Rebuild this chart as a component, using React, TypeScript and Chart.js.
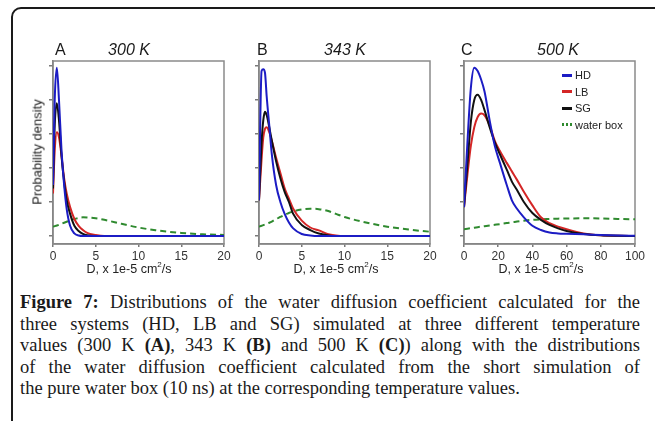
import React, { useEffect, useRef } from 'react';
import { Chart, registerables } from 'chart.js';
Chart.register(...registerables);

// ---------- data ----------
const D_A = [0, 0.2, 0.45, 0.7, 1.0, 1.3, 1.6, 2.0, 2.5, 3.0, 3.5, 4, 5, 6, 8, 10, 12, 15, 17.5, 20];
const HD_A = [0.3, 0.8, 0.99, 0.8, 0.5, 0.3, 0.16, 0.06, 0.015, 0.003, 0, 0, 0, 0, 0, 0, 0, 0, 0, 0];
const SG_A = [0.28, 0.65, 0.78, 0.68, 0.47, 0.32, 0.21, 0.13, 0.06, 0.03, 0.012, 0.004, 0, 0, 0, 0, 0, 0, 0, 0];
const LB_A = [0.25, 0.5, 0.61, 0.58, 0.47, 0.34, 0.25, 0.17, 0.1, 0.06, 0.035, 0.018, 0.006, 0, 0, 0, 0, 0, 0, 0];
const WB_A = [0.055, 0.058, 0.062, 0.066, 0.072, 0.078, 0.084, 0.092, 0.1, 0.106, 0.11, 0.109, 0.104, 0.095, 0.072, 0.05, 0.034, 0.018, 0.01, 0.006];

const D_B = [0, 0.3, 0.5, 0.7, 0.9, 1.2, 1.5, 2, 2.5, 3, 3.5, 4, 5, 6, 7, 8, 9, 10, 12, 15, 17.5, 20];
const HD_B = [0.21, 0.97, 0.98, 0.96, 0.82, 0.65, 0.48, 0.3, 0.2, 0.13, 0.08, 0.045, 0.012, 0.003, 0, 0, 0, 0, 0, 0, 0, 0];
const SG_B = [0.21, 0.55, 0.68, 0.73, 0.71, 0.64, 0.56, 0.44, 0.34, 0.26, 0.2, 0.13, 0.065, 0.035, 0.015, 0.005, 0, 0, 0, 0, 0, 0];
const LB_B = [0.21, 0.45, 0.58, 0.63, 0.64, 0.61, 0.56, 0.46, 0.37, 0.28, 0.22, 0.16, 0.09, 0.05, 0.033, 0.012, 0.003, 0, 0, 0, 0, 0];
const WB_B = [0.055, 0.06, 0.064, 0.068, 0.072, 0.078, 0.085, 0.1, 0.112, 0.125, 0.135, 0.145, 0.156, 0.16, 0.158, 0.148, 0.13, 0.112, 0.085, 0.055, 0.038, 0.025];

const D_C = [0, 2, 4, 6, 8, 10, 12, 15, 18, 21, 25, 28, 31, 35, 40, 45, 50, 55, 60, 70, 80, 90, 100];
const HD_C = [0.17, 0.55, 0.87, 0.99, 0.97, 0.92, 0.85, 0.68, 0.53, 0.43, 0.3, 0.21, 0.16, 0.11, 0.06, 0.035, 0.02, 0.015, 0.013, 0.01, 0.006, 0.003, 0.001];
const SG_C = [0.17, 0.42, 0.67, 0.8, 0.83, 0.8, 0.74, 0.64, 0.55, 0.48, 0.39, 0.32, 0.27, 0.2, 0.135, 0.095, 0.065, 0.045, 0.03, 0.012, 0.004, 0.001, 0];
const LB_C = [0.17, 0.36, 0.53, 0.64, 0.7, 0.72, 0.71, 0.65, 0.56, 0.5, 0.43, 0.38, 0.33, 0.26, 0.18, 0.11, 0.075, 0.055, 0.04, 0.015, 0.004, 0.001, 0];
const WB_C = [0.04, 0.043, 0.046, 0.049, 0.052, 0.055, 0.058, 0.062, 0.066, 0.07, 0.076, 0.08, 0.085, 0.09, 0.095, 0.098, 0.1, 0.102, 0.103, 0.104, 0.103, 0.1, 0.098];

const X_TICKS_20 = [0, 5, 10, 15, 20];
const X_TICKS_100 = [0, 20, 40, 60, 80, 100];
const Y_TICKS = [0, 0.2, 0.4, 0.6, 0.8, 1.0];

const SERIES_NAMES = ['HD', 'LB', 'SG', 'water box'];
const COLORS = { HD: '#1c1cc4', LB: '#d42626', SG: '#111111', WB: '#2f8a2f' };

const SANS = '"Liberation Sans", Arial, sans-serif';
const SERIF = '"Liberation Serif", "Times New Roman", serif';

const boxPlugin = {
  id: 'box',
  beforeDatasetsDraw(chart: any) {
    const { ctx, chartArea: a } = chart;
    ctx.save();
    ctx.strokeStyle = '#8a8a8a';
    ctx.lineWidth = 1.5;
    ctx.strokeRect(a.left, a.top, a.right - a.left, a.bottom - a.top);
    ctx.restore();
  },
};

function pts(xs: number[], ys: number[]) {
  return xs.map((x, i) => ({ x, y: ys[i] }));
}

function Panel(props: { left: number; xs: number[]; hd: number[]; lb: number[]; sg: number[]; wb: number[]; xMax: number; xTicks: number[] }) {
  const ref = useRef<HTMLCanvasElement>(null);
  useEffect(() => {
    const { xs, hd, lb, sg, wb, xMax, xTicks } = props;
    const line = (label: string, ys: number[], color: string, dash: number[] = []) => ({
      label,
      data: pts(xs, ys),
      borderColor: color,
      backgroundColor: color,
      borderWidth: 2,
      borderDash: dash,
      pointRadius: 0,
      fill: false,
      cubicInterpolationMode: 'monotone',
    });
    const chart = new Chart(ref.current as HTMLCanvasElement, {
      type: 'line',
      data: {
        datasets: [
          line(SERIES_NAMES[0], hd, COLORS.HD),
          line(SERIES_NAMES[2], sg, COLORS.SG),
          line(SERIES_NAMES[1], lb, COLORS.LB),
          line(SERIES_NAMES[3], wb, COLORS.WB, [6, 4]),
        ] as any,
      },
      options: {
        animation: false,
        responsive: false,
        maintainAspectRatio: false,
        layout: { padding: { left: 18, top: 11, right: 16, bottom: 11 } },
        plugins: { legend: { display: false }, tooltip: { enabled: false } },
        scales: {
          x: {
            type: 'linear',
            min: 0,
            max: xMax,
            afterBuildTicks: (s: any) => {
              s.ticks = xTicks.map((v) => ({ value: v }));
            },
            afterFit: (s: any) => {
              s.height = 20;
              s.paddingLeft = 0;
              s.paddingRight = 0;
            },
            grid: { drawOnChartArea: false, tickLength: 3, color: '#7a7a7a', lineWidth: 1.5 },
            border: { color: '#7a7a7a', width: 1.5 },
            ticks: { color: '#333', padding: 2, maxRotation: 0, font: { family: SANS, size: 12 } },
          },
          y: {
            type: 'linear',
            min: -0.047,
            max: 1.029,
            afterBuildTicks: (s: any) => {
              s.ticks = Y_TICKS.map((v) => ({ value: v }));
            },
            afterFit: (s: any) => {
              s.width = 5;
              s.paddingTop = 0;
              s.paddingBottom = 0;
            },
            grid: { drawOnChartArea: false, tickLength: 4, color: '#7a7a7a', lineWidth: 1.5 },
            border: { color: '#7a7a7a', width: 1.5 },
            ticks: { display: false },
          },
        },
      } as any,
      plugins: [boxPlugin],
    });
    return () => chart.destroy();
  }, []);
  return (
    <canvas
      ref={ref}
      width={210}
      height={225}
      style={{ position: 'absolute', left: props.left, top: 50, width: 210, height: 225 }}
    />
  );
}

function Txt(props: { x: number; y: number; children: any; style?: any; center?: boolean }) {
  return (
    <div
      style={{
        position: 'absolute',
        left: props.x,
        top: props.y,
        transform: props.center ? 'translate(-50%, -50%)' : 'translateY(-50%)',
        whiteSpace: 'nowrap',
        fontFamily: SANS,
        color: '#1a1a1a',
        ...props.style,
      }}
    >
      {props.children}
    </div>
  );
}

const sup = { fontSize: '8px', position: 'relative' as const, top: '-6px' };

function XLabel({ cx }: { cx: number }) {
  return (
    <Txt x={cx} y={269} center style={{ fontSize: '12.5px', color: '#222' }}>
      D, x 1e-5 cm<span style={sup}>2</span>/s
    </Txt>
  );
}

function LegendItem({ y, color, label, dotted }: { y: number; color: string; label: string; dotted?: boolean }) {
  return (
    <div style={{ position: 'absolute', left: 562, top: y - 7, height: 14, display: 'flex', alignItems: 'center', fontFamily: SANS, fontSize: '11px', color: '#222', whiteSpace: 'nowrap' }}>
      <span
        style={{
          display: 'inline-block',
          width: 10,
          height: 3,
          marginRight: 3,
          background: dotted
            ? `repeating-linear-gradient(90deg, ${color} 0 2px, transparent 2px 4px)`
            : color,
        }}
      />
      {label}
    </div>
  );
}

const capLine = (last = false) => ({
  position: 'absolute' as const,
  left: 20,
  width: 620,
  height: 22,
  lineHeight: '22px',
  fontFamily: SERIF,
  fontSize: '18.5px',
  color: '#1a1a1a',
  textAlign: (last ? 'left' : 'justify') as any,
  textAlignLast: (last ? 'left' : 'justify') as any,
  whiteSpace: 'nowrap' as const,
});

export default function App() {
  return (
    <div style={{ position: 'absolute', left: 0, top: 0, width: 655, height: 421, overflow: 'hidden', background: '#fff' }}>
      <div
        style={{
          position: 'absolute',
          left: 11,
          top: 7,
          width: 700,
          height: 500,
          border: '2px solid #1a1a1a',
          borderTopLeftRadius: 10,
          boxSizing: 'border-box',
        }}
      />
      <Panel left={30} xs={D_A} hd={HD_A} lb={LB_A} sg={SG_A} wb={WB_A} xMax={20} xTicks={X_TICKS_20} />
      <Panel left={236} xs={D_B} hd={HD_B} lb={LB_B} sg={SG_B} wb={WB_B} xMax={20} xTicks={X_TICKS_20} />
      <Panel left={441} xs={D_C} hd={HD_C} lb={LB_C} sg={SG_C} wb={WB_C} xMax={100} xTicks={X_TICKS_100} />

      <Txt x={55} y={50} style={{ fontSize: '16px' }}>A</Txt>
      <Txt x={129} y={50} center style={{ fontSize: '16px', fontStyle: 'italic' }}>300 K</Txt>
      <Txt x={257} y={50} style={{ fontSize: '16px' }}>B</Txt>
      <Txt x={345} y={50} center style={{ fontSize: '16px', fontStyle: 'italic' }}>343 K</Txt>
      <Txt x={461} y={50} style={{ fontSize: '16px' }}>C</Txt>
      <Txt x={558} y={50} center style={{ fontSize: '16px', fontStyle: 'italic' }}>500 K</Txt>

      <Txt x={37} y={152} center style={{ fontSize: '13px', transform: 'translate(-50%, -50%) rotate(-90deg)', color: '#222' }}>
        Probability density
      </Txt>
      <XLabel cx={129} />
      <XLabel cx={336} />
      <XLabel cx={541} />

      <LegendItem y={75} color={COLORS.HD} label="HD" />
      <LegendItem y={91.5} color={COLORS.LB} label="LB" />
      <LegendItem y={108} color={COLORS.SG} label="SG" />
      <LegendItem y={124.5} color={COLORS.WB} label="water box" dotted />

      <div style={{ ...capLine(), top: 291 }}>
        <b>Figure 7:</b> Distributions of the water diffusion coefficient calculated for the
      </div>
      <div style={{ ...capLine(), top: 312.5 }}>
        three systems (HD, LB and SG) simulated at three different temperature
      </div>
      <div style={{ ...capLine(), top: 334 }}>
        values (300 K <b>(A)</b>, 343 K <b>(B)</b> and 500 K <b>(C)</b>) along with the distributions
      </div>
      <div style={{ ...capLine(), top: 355.5 }}>
        of the water diffusion coefficient calculated from the short simulation of
      </div>
      <div style={{ ...capLine(true), top: 377 }}>
        the pure water box (10 ns) at the corresponding temperature values.
      </div>
    </div>
  );
}
